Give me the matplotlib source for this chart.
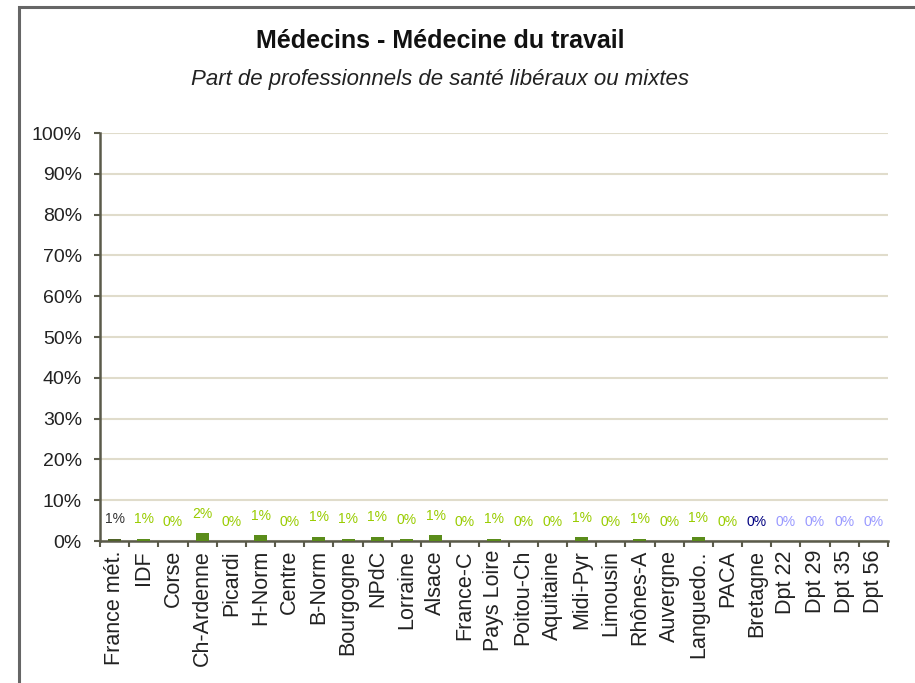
import matplotlib
matplotlib.use("Agg")
import matplotlib.pyplot as plt
from matplotlib.patches import Rectangle
import numpy as np

categories = ["France mét.", "IDF", "Corse", "Ch-Ardenne", "Picardi", "H-Norm", "Centre",
              "B-Norm", "Bourgogne", "NPdC", "Lorraine", "Alsace", "France-C", "Pays Loire",
              "Poitou-Ch", "Aquitaine", "Midi-Pyr", "Limousin", "Rhônes-A", "Auvergne",
              "Languedo..", "PACA", "Bretagne", "Dpt 22", "Dpt 29", "Dpt 35", "Dpt 56"]
values = [0.6, 0.55, 0.0, 1.95, 0.0, 1.45, 0.0, 1.0, 0.55, 1.0, 0.4, 1.45, 0.0, 0.55,
          0.0, 0.0, 0.9, 0.0, 0.55, 0.0, 0.9, 0.0, 0.0, 0.0, 0.0, 0.0, 0.0]
labels = ["1%", "1%", "0%", "2%", "0%", "1%", "0%", "1%", "1%", "1%", "0%", "1%", "0%", "1%",
          "0%", "0%", "1%", "0%", "1%", "0%", "1%", "0%", "0%", "0%", "0%", "0%", "0%"]
yticks = [0, 10, 20, 30, 40, 50, 60, 70, 80, 90, 100]

bar_colors = ["#4f6228"] + ["#5a8c1a"] * 26
label_colors = ["#333333"] + ["#99cc00"] * 21 + ["#000080"] + ["#9999ff"] * 4

plt.rcParams['font.family'] = ['Liberation Sans', 'DejaVu Sans']

fig = plt.figure(figsize=(9.15, 6.83), dpi=100)
fig.patches.append(Rectangle((18.5/915, -0.1), 1.2, 1 - 6.5/683 + 0.1, transform=fig.transFigure,
                             fill=False, edgecolor="#666666", linewidth=2.2, zorder=0))

ax = fig.add_axes([100/915, 1 - 541/683, 788/915, 408/683])
x = np.arange(len(categories))
ax.bar(x, values, width=0.45, color=bar_colors, zorder=3)
for xi, v, lab, c in zip(x, values, labels, label_colors):
    ax.annotate(lab, (xi, v), xytext=(0, 9), textcoords="offset points",
                ha="center", va="bottom", fontsize=10, color=c, zorder=4)

ax.set_xlim(-0.5, len(categories) - 0.5)
ax.set_ylim(0, 100)
ax.set_yticks(yticks)
ax.set_yticklabels([f"{t}%" for t in yticks], fontsize=14, color="#222222")
ax.yaxis.grid(True, color="#e0dccb", linewidth=1.5, zorder=0)
ax.set_axisbelow(True)

ax.set_xticks(x)
ax.set_xticklabels(categories, rotation=90, fontsize=15.5, color="#222222")
ax.tick_params(axis="x", length=0, pad=6.5)
ax.set_xticks(np.arange(-0.5, len(categories), 1), minor=True)
ax.tick_params(axis="x", which="minor", length=4.5, width=1.5, color="#5a5a4a", direction="out")
ax.tick_params(axis="y", length=4.5, width=1.5, color="#5a5a4a", direction="out", pad=8.5)

for s in ["top", "right"]:
    ax.spines[s].set_visible(False)
for s in ["left", "bottom"]:
    ax.spines[s].set_color("#5a5a4a")
    ax.spines[s].set_linewidth(1.8)

fig.text(440/915, 1 - 48/683, "Médecins - Médecine du travail", ha="center", va="baseline",
         fontsize=18, fontweight="bold", color="#111111")
fig.text(440/915, 1 - 85/683, "Part de professionnels de santé libéraux ou mixtes", ha="center",
         va="baseline", fontsize=16, style="italic", color="#222222")

fig.savefig("out.png", dpi=100)
